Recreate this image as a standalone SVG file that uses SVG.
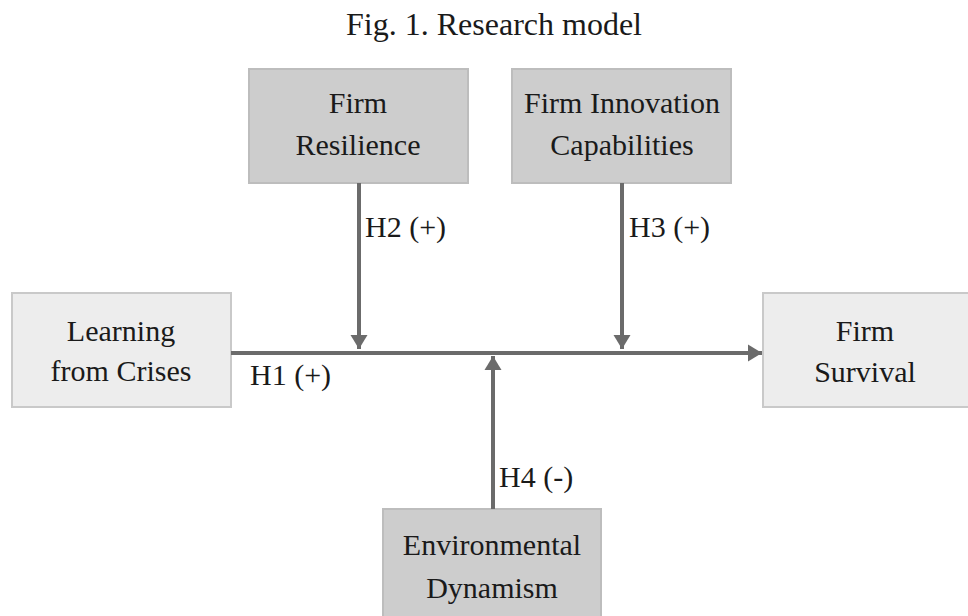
<svg xmlns="http://www.w3.org/2000/svg" width="968" height="616" viewBox="0 0 968 616">
<style>
text{font-family:"Liberation Serif","Times New Roman",serif;font-size:30px;fill:#1a1a1a}
.c{text-anchor:middle}
.t{font-size:32px}
.light{fill:#ededed;stroke:#c9c9c9;stroke-width:2}
.dark{fill:#cdcdcd;stroke:#bdbdbd;stroke-width:2}
.ln{stroke:#6b6b6b;stroke-width:4;fill:none}
</style>
<defs>
<marker id="ah" markerUnits="userSpaceOnUse" markerWidth="17" markerHeight="19" refX="14" refY="9.5" orient="auto" viewBox="0 0 17 19">
<polygon points="0,1 14,9.5 0,18" fill="#6b6b6b"/>
</marker>
</defs>
<rect width="968" height="616" fill="#ffffff"/>
<text class="c t" x="494" y="35">Fig. 1. Research model</text>
<g id="learning">
<rect class="light" x="12" y="293" width="219" height="114"/>
<text class="c" x="121" y="341">Learning</text>
<text class="c" x="121" y="381">from Crises</text>
</g>
<g id="survival">
<rect class="light" x="763" y="293" width="219" height="114"/>
<text class="c" x="865" y="341">Firm</text>
<text class="c" x="865" y="382">Survival</text>
</g>
<g id="resilience">
<rect class="dark" x="249" y="69" width="219" height="114"/>
<text class="c" x="358" y="113">Firm</text>
<text class="c" x="358" y="155">Resilience</text>
</g>
<g id="innovation">
<rect class="dark" x="512" y="69" width="219" height="114"/>
<text class="c" x="622" y="113">Firm Innovation</text>
<text class="c" x="622" y="155">Capabilities</text>
</g>
<g id="dynamism">
<rect class="dark" x="383" y="509" width="218" height="116"/>
<text class="c" x="492" y="555">Environmental</text>
<text class="c" x="492" y="598">Dynamism</text>
</g>
<g id="connectors">
<line class="ln" x1="231" y1="353" x2="762" y2="353" marker-end="url(#ah)"/>
<line class="ln" x1="359" y1="183" x2="359" y2="349" marker-end="url(#ah)"/>
<line class="ln" x1="622" y1="183" x2="622" y2="349" marker-end="url(#ah)"/>
<line class="ln" x1="493" y1="509" x2="493" y2="356" marker-end="url(#ah)"/>
<text x="250" y="385">H1 (+)</text>
<text x="365" y="237">H2 (+)</text>
<text x="629" y="237">H3 (+)</text>
<text x="499" y="487">H4 (-)</text>
</g>
</svg>
